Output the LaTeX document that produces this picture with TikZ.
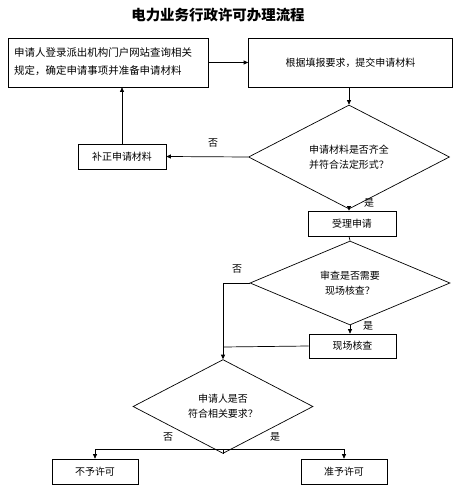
\documentclass[tikz,border=0pt]{standalone}
\usepackage{fontspec}
\newfontfamily\cjk{Noto Sans CJK SC}
\usetikzlibrary{arrows.meta,shapes.geometric}
\begin{document}
\begin{tikzpicture}[x=1bp,y=-1bp,
  line/.style={draw=black,line width=0.7bp},
  arr/.style={line,-{Triangle[length=4.5bp,width=4bp]}},
  box/.style={draw=black,line width=0.7bp,rectangle,inner sep=0,font=\cjk\fontsize{10}{15}\selectfont},
  dia/.style={draw=black,line width=0.7bp,diamond,inner sep=0,align=center,font=\cjk\fontsize{10}{15}\selectfont},
  lab/.style={font=\cjk\fontsize{10}{12}\selectfont,inner sep=0}]
\useasboundingbox (0,0) rectangle (454,489);
\node[font=\cjk\bfseries\fontsize{14.5}{16}\selectfont] (title) at (218,15) {电力业务行政许可办理流程};
\node[box,minimum width=200bp,minimum height=49bp] (b1) at (108,62.5) {};
\node[font=\cjk\fontsize{10.5}{18}\selectfont,align=left,anchor=west,inner sep=0] (b1t) at (14,61.5) {申请人登录派出机构门户网站查询相关\\规定，确定申请事项并准备申请材料};
\node[box,minimum width=204bp,minimum height=49bp] (b2) at (350.5,62.5) {根据填报要求，提交申请材料};
\node[dia,minimum width=201bp,minimum height=80bp] (d1) at (349,157) {申请材料是否齐全\\并符合法定形式？};
\node[box,minimum width=88bp,minimum height=25bp] (bz) at (122,156.5) {补正申请材料};
\node[box,minimum width=88bp,minimum height=25bp] (sl) at (352,223.5) {受理申请};
\node[dia,minimum width=200bp,minimum height=72bp] (d2) at (350,283) {审查是否需要\\现场核查？};
\node[box,minimum width=87bp,minimum height=24bp] (xc) at (352.5,346) {现场核查};
\node[dia,minimum width=180bp,minimum height=73bp] (d3) at (223,406.5) {申请人是否\\符合相关要求？};
\node[box,minimum width=86bp,minimum height=25bp] (by) at (95,471.5) {不予许可};
\node[box,minimum width=86bp,minimum height=25bp] (zy) at (344,471.5) {准予许可};
\coordinate (j1) at (223,283);
\coordinate (j2) at (223,347);
\coordinate (j3) at (223,449);
\draw[arr] (b1.east) -- (b2.west);
\draw[arr] (b2.south -| d1.north) -- (d1.north);
\draw[arr] (d1.west) -- (bz.east);
\draw[arr] (bz.north) -- (bz.north |- b1.south);
\draw[arr] (d1.south) -- (d1.south |- sl.north);
\draw[line] (d1.south |- sl.south) -- (d2.north);
\draw[arr] (d2.south) -- (d2.south |- xc.north);
\draw[line] (d2.west) -- (j1);
\draw[arr] (j1) -- (d3.north);
\draw[line] (xc.west) -- (j2);
\draw[line] (d3.south) -- (j3);
\draw[arr] (j3) -| (by.north);
\draw[arr] (j3) -| (zy.north);
\node[lab] (l1) at (213,143) {否};
\node[lab] (l2) at (369,203) {是};
\node[lab] (l3) at (237,269) {否};
\node[lab] (l4) at (368,326) {是};
\node[lab] (l5) at (168,437) {否};
\node[lab] (l6) at (275,437) {是};
\end{tikzpicture}
\end{document}
